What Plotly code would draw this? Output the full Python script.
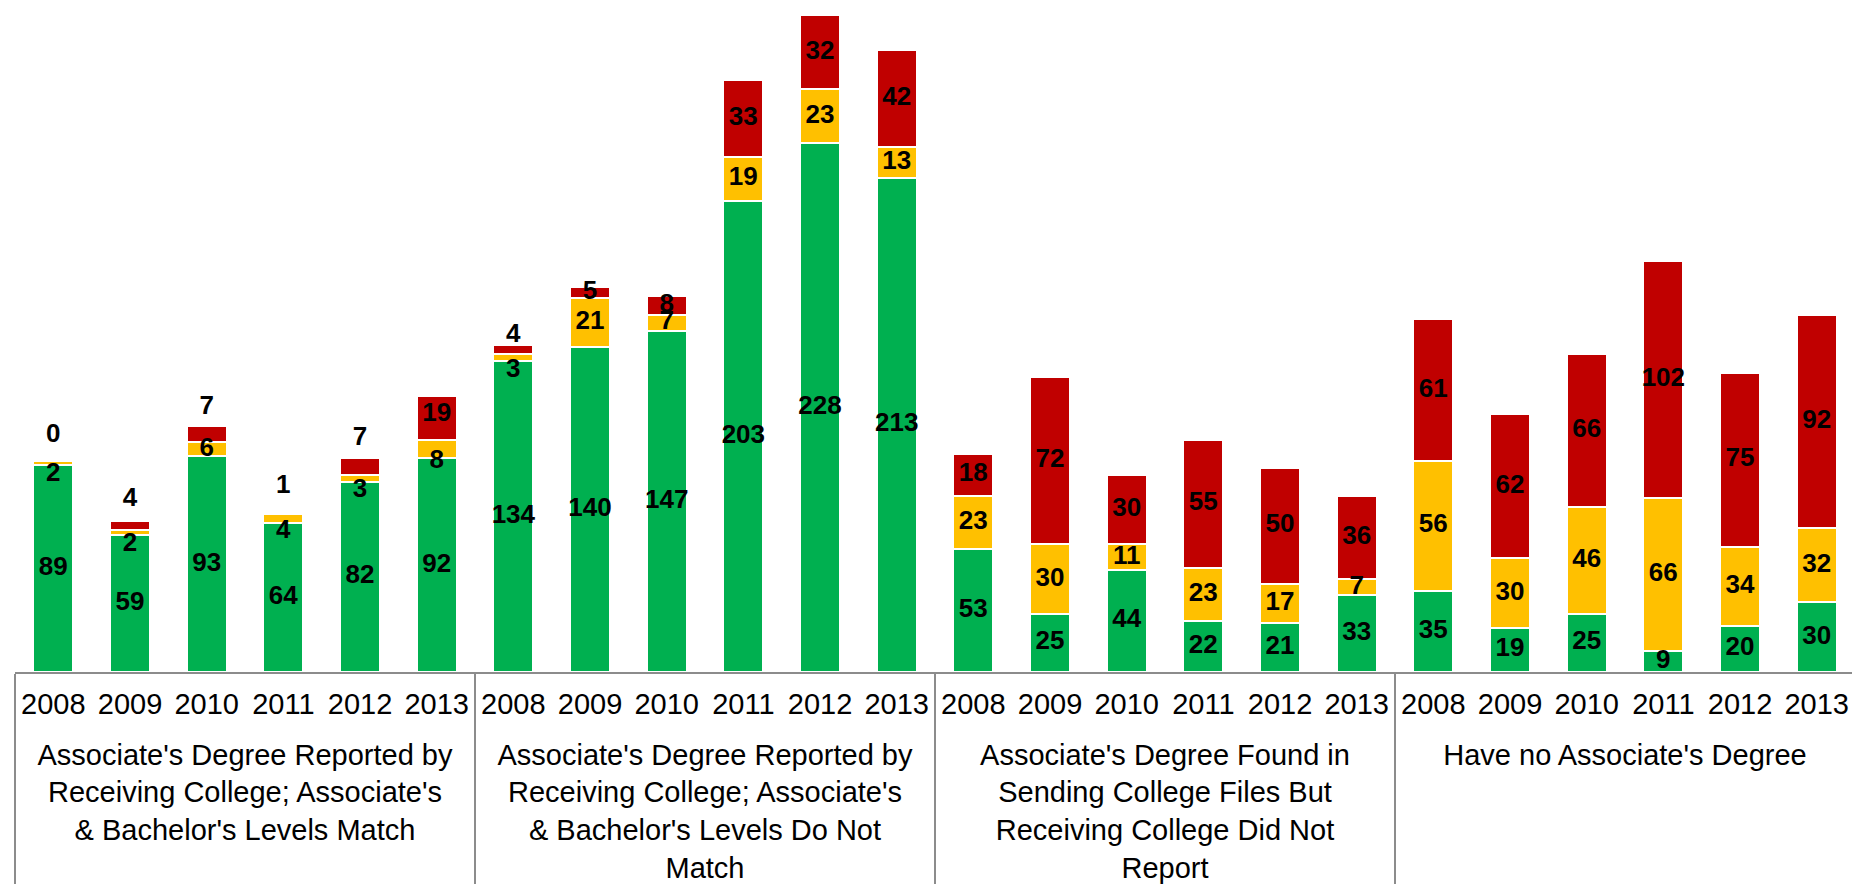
import plotly.graph_objects as go

# ---------------- data ----------------
groups = [
    "Associate's Degree Reported by<br>Receiving College; Associate's<br>& Bachelor's Levels Match",
    "Associate's Degree Reported by<br>Receiving College; Associate's<br>& Bachelor's Levels Do Not<br>Match",
    "Associate's Degree Found in<br>Sending College Files But<br>Receiving College Did Not<br>Report",
    "Have no Associate's Degree",
]
years = ["2008", "2009", "2010", "2011", "2012", "2013"]

green = [89, 59, 93, 64, 82, 92,
         134, 140, 147, 203, 228, 213,
         53, 25, 44, 22, 21, 33,
         35, 19, 25, 9, 20, 30]
yellow = [2, 2, 6, 4, 3, 8,
          3, 21, 7, 19, 23, 13,
          23, 30, 11, 23, 17, 7,
          56, 30, 46, 66, 34, 32]
red = [0, 4, 7, 1, 7, 19,
       4, 5, 8, 33, 32, 42,
       18, 72, 30, 55, 50, 36,
       61, 62, 66, 102, 75, 92]

# ---------------- style ----------------
COLORS = {"green": "#00B050", "yellow": "#FFC000", "red": "#C00000"}
FONT = "Liberation Sans, Arial, sans-serif"
# label nudges (in value units) for labels moved off tiny segments: index -> shift
YELLOW_NUDGE = {0: -5, 1: -5, 3: -5.5, 4: -5.3, 5: -5.5, 6: -5.6}
RED_NUDGE = {0: 11, 1: 11.5, 2: 11.5, 3: 11.5, 4: 12, 5: 1.5, 6: 6}
# invisible tall padding around year labels -> more room between year row and group row
PAD = "<span style='font-size:49px'>\u00a0</span>"

x_group = [g for g in groups for _ in years]
x_year = [PAD + y + PAD for _ in groups for y in years]
x = [x_group, x_year]

fig = go.Figure()
series = [("green", green), ("yellow", yellow), ("red", red)]
for name, vals in series:
    fig.add_trace(go.Bar(
        x=x, y=vals, name=name,
        marker=dict(color=COLORS[name], line=dict(color="white", width=2)),
        hoverinfo="skip",
    ))

# label positions (segment centres)
ylab_g, ylab_y, ylab_r = [], [], []
for i in range(len(green)):
    g, yv, r = green[i], yellow[i], red[i]
    ylab_g.append(g / 2)
    ylab_y.append(g + yv / 2 + YELLOW_NUDGE.get(i, 0))
    ylab_r.append(g + yv + r / 2 + RED_NUDGE.get(i, 0))

for vals, ys in [(green, ylab_g), (yellow, ylab_y), (red, ylab_r)]:
    fig.add_trace(go.Scatter(
        x=x, y=ys, mode="text", text=[str(v) for v in vals],
        textposition="middle center",
        textfont=dict(family=FONT, size=26, color="black", weight="bold"),
        hoverinfo="skip", cliponaxis=False, showlegend=False,
    ))

fig.update_layout(
    barmode="stack",
    bargap=0.48,
    width=1860, height=887,
    margin=dict(l=7, r=13, t=0, b=223, autoexpand=False),
    paper_bgcolor="white", plot_bgcolor="white",
    showlegend=False,
    font=dict(family=FONT, color="black"),
)
fig.update_xaxes(
    type="multicategory",
    range=[-0.5, 23.5], autorange=False,
    showline=True, linecolor="#8c8c8c", linewidth=1.5,
    showdividers=True, dividercolor="#8c8c8c", dividerwidth=1.5,
    ticks="", showgrid=False, tickangle=0, ticklabelstandoff=5,
    tickfont=dict(family=FONT, size=29, color="black"),
    automargin=False,
)
fig.update_yaxes(visible=False, range=[0, 286.1], showgrid=False)

fig.write_html("out.html")
